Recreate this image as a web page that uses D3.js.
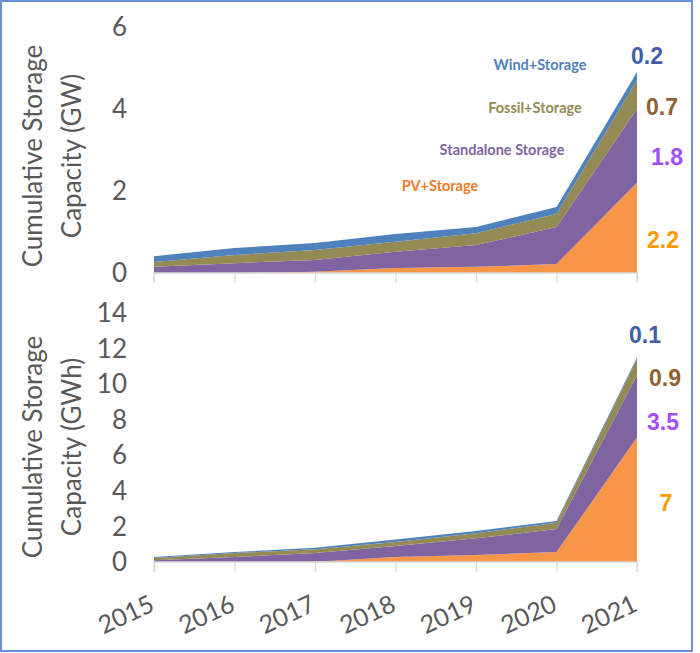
<!DOCTYPE html>
<html><head><meta charset="utf-8">
<script src="https://cdn.jsdelivr.net/npm/d3@7"></script>
<style>body{margin:0;background:#fff}svg{display:block}</style>
</head><body>
<svg id="c" width="700" height="653"></svg>
<script>
const years = [2015, 2016, 2017, 2018, 2019, 2020, 2021];
const seriesNames = ["PV+Storage", "Standalone Storage", "Fossil+Storage", "Wind+Storage"];
// Top panel: power (GW)
const pvGW         = [0.00, 0.00, 0.03, 0.12, 0.15, 0.22, 2.2];
const standaloneGW = [0.15, 0.24, 0.29, 0.40, 0.53, 0.90, 1.8];
const fossilGW     = [0.12, 0.20, 0.24, 0.24, 0.29, 0.32, 0.7];
const windGW       = [0.14, 0.17, 0.17, 0.19, 0.15, 0.17, 0.2];
// Bottom panel: energy (GWh)
const pvGWh         = [0.00, 0.00, 0.02, 0.28, 0.39, 0.56, 7.0];
const standaloneGWh = [0.10, 0.28, 0.48, 0.62, 0.94, 1.29, 3.5];
const fossilGWh     = [0.12, 0.22, 0.22, 0.22, 0.29, 0.35, 0.9];
const windGWh       = [0.06, 0.06, 0.08, 0.15, 0.12, 0.10, 0.1];
const topTicks = [0, 2, 4, 6];
const bottomTicks = [0, 2, 4, 6, 8, 10, 12, 14];
const topValueLabels = ["2.2", "1.8", "0.7", "0.2"];
const bottomValueLabels = ["7", "3.5", "0.9", "0.1"];

const areaColors = ["#f79646", "#8064a2", "#948a54", "#4f81bd"];
const nameColors = ["#f07a26", "#8064a2", "#948a54", "#4f81bd"];
const valueColors = ["#ff9900", "#a24dfa", "#92602f", "#3f5fa8"];

const svg = d3.select("#c");
svg.append("rect").attr("x", 1).attr("y", 1).attr("width", 691).attr("height", 650)
  .attr("fill", "#fff").attr("stroke", "#6d8fd8").attr("stroke-width", 2);

const x = d3.scalePoint().domain(years).range([154, 637]);

function panel(vals, ticks, yMax, yRange, title, titleY, valueLabels, valuePos) {
  const y = d3.scaleLinear().domain([0, yMax]).range(yRange);
  const rows = years.map((yr, i) => {
    const r = {year: yr};
    seriesNames.forEach((s, k) => r[s] = vals[k][i]);
    return r;
  });
  const stacked = d3.stack().keys(seriesNames)(rows);
  const area = d3.area().x(d => x(d.data.year)).y0(d => y(d[0])).y1(d => y(d[1]));
  const g = svg.append("g");
  g.selectAll("path.a").data(stacked).join("path")
    .attr("d", area).attr("fill", (d, i) => areaColors[i]);
  // x axis
  const ax = d3.axisBottom(x).tickSize(10).tickFormat("");
  const axg = g.append("g").attr("transform", `translate(0,${y(0)})`).call(ax);
  axg.selectAll("path,line").attr("stroke", "#d9d9d9").attr("stroke-width", 1.3);
  axg.select(".domain").attr("d", `M${x(years[0])},10V0H${x(years[years.length-1])}V10`);
  // y tick labels
  g.selectAll("text.yt").data(ticks).join("text")
    .attr("x", 127).attr("y", d => y(d)).attr("dy", "0.35em")
    .attr("text-anchor", "end").attr("fill", "#595959")
    .style("font", "26px Lato, 'Open Sans', sans-serif").text(d => d);
  // y title
  title.forEach((t, i) => {
    g.append("text").attr("transform", `translate(${33 + i * 39},${titleY}) rotate(-90)`)
      .attr("text-anchor", "middle").attr("dy", "0.35em").attr("fill", "#595959")
      .style("font", "26px Lato, 'Open Sans', sans-serif").text(t);
  });
  // value labels
  valueLabels.forEach((t, i) => {
    g.append("text").attr("x", valuePos[i][0]).attr("y", valuePos[i][1]).attr("dy", "0.35em")
      .attr("text-anchor", "middle").attr("fill", valueColors[i])
      .style("font", "bold 23px 'Liberation Sans', Arial, sans-serif").text(t);
  });
  return {g, y};
}

panel([pvGW, standaloneGW, fossilGW, windGW], topTicks, 6, [273, 27],
  ["Cumulative Storage", "Capacity (GW)"], 156, topValueLabels,
  [[663, 240], [667, 157], [662, 107], [647, 56]]);
panel([pvGWh, standaloneGWh, fossilGWh, windGWh], bottomTicks, 14, [562, 313],
  ["Cumulative Storage", "Capacity (GWh)"], 447, bottomValueLabels,
  [[666, 503], [663, 422], [665, 378], [645, 335]]);

// series name labels (top panel)
const namePos = [[440, 186], [502, 150], [535, 108], [540, 65]];
seriesNames.forEach((s, i) => {
  svg.append("text").attr("x", namePos[i][0]).attr("y", namePos[i][1]).attr("dy", "0.35em")
    .attr("text-anchor", "middle").attr("fill", nameColors[i])
    .style("font", "bold 14.5px Lato, 'Open Sans', sans-serif").text(s);
});

// year labels
svg.selectAll("text.yr").data(years).join("text")
  .attr("transform", d => `translate(${x(d) + 2},610) rotate(-25)`)
  .attr("text-anchor", "end").attr("fill", "#595959")
  .style("font", "25px Lato, 'Open Sans', sans-serif").text(d => d);
</script>
</body></html>
